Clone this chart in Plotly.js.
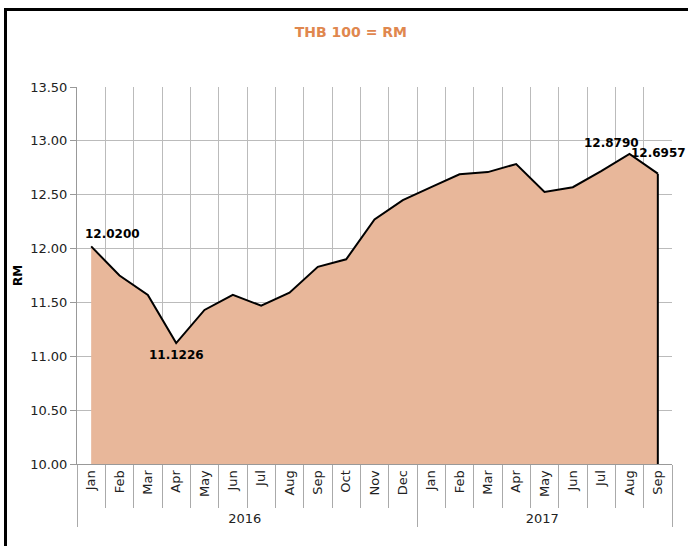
<!DOCTYPE html>
<html>
<head>
<meta charset="utf-8">
<script src="https://cdn.plot.ly/plotly-3.0.1.min.js"></script>
<style>
  body { margin: 0; }
  #wrap { position: relative; width: 688px; height: 546px; overflow: hidden; background: #fff; }
  #plot { position: absolute; left: 0; top: 0; width: 688px; height: 546px; }
  #frame { position: absolute; left: 4px; top: 8px; width: 700px; height: 560px;
           border-left: 3px solid #000; border-top: 3px solid #000; pointer-events: none; }
</style>
</head>
<body>
<div id="wrap">
  <div id="plot"></div>
  <div id="frame"></div>
</div>
<script>
var years = ['2016', '2016', '2016', '2016', '2016', '2016', '2016', '2016', '2016', '2016', '2016', '2016',
             '2017', '2017', '2017', '2017', '2017', '2017', '2017', '2017', '2017'];
var months = ['Jan', 'Feb', 'Mar', 'Apr', 'May', 'Jun', 'Jul', 'Aug', 'Sep', 'Oct', 'Nov', 'Dec',
              'Jan', 'Feb', 'Mar', 'Apr', 'May', 'Jun', 'Jul', 'Aug', 'Sep'];
var rates = [12.0200, 11.75, 11.57, 11.1226, 11.43, 11.57, 11.47, 11.59, 11.83, 11.90, 12.27, 12.45,
             12.57, 12.69, 12.71, 12.785, 12.525, 12.57, 12.72, 12.8790, 12.6957];
var labelled = [0, 3, 19, 20];

var last = rates.length - 1;

var area = {
  x: [years, months],
  y: rates,
  mode: 'lines',
  fill: 'tozeroy',
  fillcolor: '#E8B79A',
  line: { color: '#000', width: 2 },
  hoverinfo: 'y'
};

var edge = {
  x: [[years[last], years[last]], [months[last], months[last]]],
  y: [rates[last], 10],
  mode: 'lines',
  line: { color: '#000', width: 2 },
  hoverinfo: 'skip'
};

var shifts = { 0: [21, 12], 3: [0, -12], 19: [-18, 11], 20: [1, 21] };
var notes = [];
for (var i = 0; i < labelled.length; i++) {
  var k = labelled[i];
  notes.push({
    x: k,
    y: rates[k],
    xref: 'x',
    yref: 'y',
    text: '<b>' + rates[k].toFixed(4) + '</b>',
    showarrow: false,
    xshift: shifts[k][0],
    yshift: shifts[k][1],
    font: { family: 'DejaVu Sans', size: 12, color: '#000' }
  });
}

var layout = {
  width: 688,
  height: 546,
  margin: { l: 77, r: 16, t: 87, b: 82 },
  paper_bgcolor: '#fff',
  plot_bgcolor: '#fff',
  showlegend: false,
  font: { family: 'DejaVu Sans', size: 13, color: '#222' },
  title: {
    text: '<b>THB 100 = RM</b>',
    font: { family: 'DejaVu Sans', size: 14, color: '#E0874E' },
    x: 0.51,
    xanchor: 'center',
    y: 0.942,
    yanchor: 'middle'
  },
  xaxis: {
    type: 'multicategory',
    range: [-0.5, months.length - 0.5],
    tickangle: -90,
    ticks: 'outside',
    tickson: 'boundaries',
    ticklen: 43,
    tickcolor: '#aaa',
    showgrid: true,
    gridcolor: '#bbb',
    showline: true,
    linecolor: '#999',
    showdividers: true,
    dividercolor: '#aaa',
    dividerwidth: 1,
    tickfont: { family: 'DejaVu Sans', size: 13, color: '#222' }
  },
  yaxis: {
    range: [10, 13.5],
    dtick: 0.5,
    tickformat: '.2f',
    ticks: 'outside',
    ticklen: 6,
    tickcolor: '#999',
    showgrid: true,
    gridcolor: '#bbb',
    showline: true,
    linecolor: '#999',
    zeroline: false,
    tickfont: { family: 'DejaVu Sans', size: 13, color: '#222' },
    title: { text: '<b>RM</b>', font: { family: 'DejaVu Sans', size: 12, color: '#000' }, standoff: 4 }
  },
  annotations: notes
};

Plotly.newPlot('plot', [area, edge], layout, { displayModeBar: false, staticPlot: true });
</script>
</body>
</html>
